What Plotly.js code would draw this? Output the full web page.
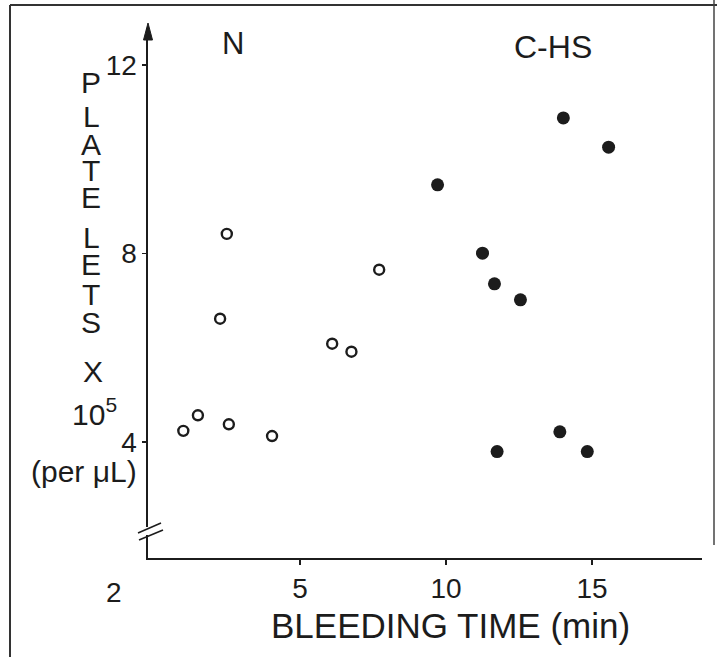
<!DOCTYPE html>
<html>
<head>
<meta charset="utf-8">
<script src="https://cdn.plot.ly/plotly-3.0.1.min.js"></script>
<style>
  html, body { margin: 0; padding: 0; background: #fff; }
  #chart { width: 717px; height: 657px; }
</style>
</head>
<body>
<div id="chart"></div>
<script>
// ---- data ----
const normalTime      = [1.00, 1.50, 2.26, 2.49, 2.56, 4.04, 6.10, 6.76, 7.71];
const normalPlatelets = [4.24, 4.57, 6.62, 8.42, 4.38, 4.13, 6.09, 5.92, 7.66];

const chsTime      = [9.71, 11.25, 11.66, 11.75, 12.55, 13.90, 14.02, 14.84, 15.57];
const chsPlatelets = [9.46, 8.01, 7.36, 3.80, 7.02, 4.22, 10.88, 3.80, 10.26];

const xTickVals = [5, 10, 15];
const xTickText = ['5', '10', '15'];
const yTickVals = [4, 8, 12];
const yTickText = ['4', '8', '12'];
const groupLabels = ['N', 'C-HS'];
const yTitleLetters = ['P', 'L', 'A', 'T', 'E', 'L', 'E', 'T', 'S'];
const xTitle = 'BLEEDING TIME (min)';
const brokenAxisLabel = '2';

// ---- layout geometry ----
const W = 717, H = 657;
const M = { l: 148, r: 15, t: 28, b: 99 };
const PW = W - M.l - M.r, PH = H - M.t - M.b;
const px = x => (x - M.l) / PW;          // pixel -> paper x
const py = y => (H - M.b - y) / PH;      // pixel -> paper y

const ink = '#1c1c1c';
const FONT = 'Liberation Sans, Arial, Helvetica, sans-serif';

const traces = [
  {
    x: normalTime, y: normalPlatelets, name: groupLabels[0],
    type: 'scatter', mode: 'markers', cliponaxis: false,
    marker: { symbol: 'circle-open', size: 10, color: ink, line: { width: 2.4, color: ink } }
  },
  {
    x: chsTime, y: chsPlatelets, name: groupLabels[1],
    type: 'scatter', mode: 'markers', cliponaxis: false,
    marker: { symbol: 'circle', size: 13, color: ink }
  }
];

const annotations = [];
const letterY = [83, 117, 145, 170, 197, 237, 264, 294, 322];
yTitleLetters.forEach((ch, i) => {
  annotations.push({ xref: 'paper', yref: 'paper', x: px(91), y: py(letterY[i]),
    text: ch, showarrow: false, xanchor: 'center', yanchor: 'middle',
    font: { family: FONT, size: 30, color: ink } });
});
annotations.push({ xref: 'paper', yref: 'paper', x: px(93), y: py(371), text: 'X',
  showarrow: false, xanchor: 'center', yanchor: 'middle', font: { family: FONT, size: 30, color: ink } });
annotations.push({ xref: 'paper', yref: 'paper', x: px(94), y: py(412), text: '10<sup>5</sup>',
  showarrow: false, xanchor: 'center', yanchor: 'middle', font: { family: FONT, size: 30, color: ink } });
annotations.push({ xref: 'paper', yref: 'paper', x: px(84), y: py(471), text: '(per μL)',
  showarrow: false, xanchor: 'center', yanchor: 'middle', font: { family: FONT, size: 30, color: ink } });
annotations.push({ xref: 'paper', yref: 'paper', x: px(450), y: py(625), text: xTitle,
  showarrow: false, xanchor: 'center', yanchor: 'middle', font: { family: FONT, size: 35, color: ink } });
annotations.push({ xref: 'paper', yref: 'paper', x: px(114), y: py(592), text: brokenAxisLabel,
  showarrow: false, xanchor: 'center', yanchor: 'middle', font: { family: FONT, size: 28, color: ink } });
annotations.push({ xref: 'paper', yref: 'paper', x: px(233), y: py(43), text: groupLabels[0],
  showarrow: false, xanchor: 'center', yanchor: 'middle', font: { family: FONT, size: 31, color: ink } });
annotations.push({ xref: 'paper', yref: 'paper', x: px(553), y: py(47), text: groupLabels[1],
  showarrow: false, xanchor: 'center', yanchor: 'middle', font: { family: FONT, size: 32, color: ink } });

const arrowPath = 'M ' + px(143.5) + ' ' + py(40) + ' L ' + px(148) + ' ' + py(23) +
                  ' L ' + px(152.5) + ' ' + py(40) + ' Z';

const shapes = [
  // scan frame
  { type: 'line', xref: 'paper', yref: 'paper', x0: px(10), x1: px(717), y0: py(5), y1: py(5), line: { color: '#333', width: 2 } },
  { type: 'line', xref: 'paper', yref: 'paper', x0: px(10), x1: px(10), y0: py(5), y1: py(657), line: { color: '#333', width: 2 } },
  { type: 'line', xref: 'paper', yref: 'paper', x0: px(714), x1: px(714), y0: py(0), y1: py(545), line: { color: '#444', width: 1.5 } },
  // axis arrow head
  { type: 'path', xref: 'paper', yref: 'paper', path: arrowPath, fillcolor: ink, line: { color: ink, width: 1 } },
  // axis break
  { type: 'rect', xref: 'paper', yref: 'paper', x0: px(144), x1: px(152), y0: py(527), y1: py(535), fillcolor: '#fff', line: { width: 0 } },
  { type: 'line', xref: 'paper', yref: 'paper', x0: px(138), x1: px(161), y0: py(533), y1: py(523), line: { color: ink, width: 1.6 } },
  { type: 'line', xref: 'paper', yref: 'paper', x0: px(139), x1: px(163), y0: py(540), y1: py(530), line: { color: ink, width: 1.6 } }
];

const layout = {
  width: W, height: H,
  margin: M,
  paper_bgcolor: '#fff', plot_bgcolor: '#fff',
  showlegend: false,
  font: { family: FONT, color: ink },
  xaxis: {
    range: [-0.21, 18.77], showgrid: false, zeroline: false,
    showline: true, linecolor: ink, linewidth: 1.6,
    ticks: 'outside', ticklen: 5, tickwidth: 1.4, tickcolor: ink,
    tickvals: xTickVals, ticktext: xTickText, ticklabelstandoff: 0,
    tickfont: { family: FONT, size: 28, color: ink }, automargin: false
  },
  yaxis: {
    range: [1.542, 12.789], showgrid: false, zeroline: false,
    showline: true, linecolor: ink, linewidth: 1.6,
    ticks: 'outside', ticklen: 4, tickwidth: 1.4, tickcolor: ink,
    tickvals: yTickVals, ticktext: yTickText,
    tickfont: { family: FONT, size: 28, color: ink }, automargin: false
  },
  annotations: annotations,
  shapes: shapes
};

Plotly.newPlot('chart', traces, layout, { displayModeBar: false, staticPlot: true });
</script>
</body>
</html>
